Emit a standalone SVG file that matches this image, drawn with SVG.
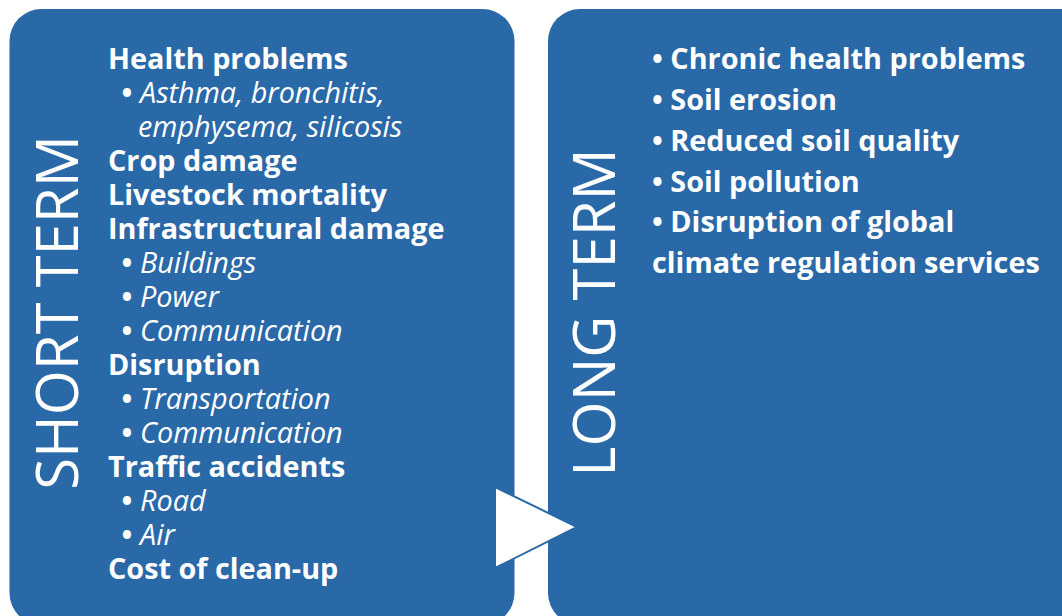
<svg xmlns="http://www.w3.org/2000/svg" width="1062" height="616" viewBox="0 0 1062 616">
<style>
.box{fill:#2A69A8;}
.t{font-family:"Open Sans","DejaVu Sans",sans-serif;fill:#fff;font-size:28.8px;}
.b{font-weight:bold;}
.i{font-style:italic;}
.big{font-family:"Open Sans","DejaVu Sans",sans-serif;fill:#fff;font-size:58px;text-anchor:middle;}
</style>
<rect width="1062" height="616" fill="#fff"/>
<g id="short-term">
<rect class="box" x="9.5" y="9" width="505" height="616" rx="32" ry="32"/>
<text class="big" transform="translate(78,312.5) rotate(-90)">SHORT TERM</text>
<text class="t b" x="108" y="69">Health problems</text>
<text class="t b" x="121.5" y="103">•</text><text class="t i" x="140" y="103">Asthma, bronchitis,</text>
<text class="t i" x="138" y="137">emphysema, silicosis</text>
<text class="t b" x="108" y="171">Crop damage</text>
<text class="t b" x="108" y="205">Livestock mortality</text>
<text class="t b" x="108" y="239">Infrastructural damage</text>
<text class="t b" x="121.5" y="273">•</text><text class="t i" x="140" y="273">Buildings</text>
<text class="t b" x="121.5" y="307">•</text><text class="t i" x="140" y="307">Power</text>
<text class="t b" x="121.5" y="341">•</text><text class="t i" x="140" y="341">Communication</text>
<text class="t b" x="108" y="375">Disruption</text>
<text class="t b" x="121.5" y="409">•</text><text class="t i" x="140" y="409">Transportation</text>
<text class="t b" x="121.5" y="443">•</text><text class="t i" x="140" y="443">Communication</text>
<text class="t b" x="108" y="477">Traffic accidents</text>
<text class="t b" x="121.5" y="511">•</text><text class="t i" x="140" y="511">Road</text>
<text class="t b" x="121.5" y="545">•</text><text class="t i" x="140" y="545">Air</text>
<text class="t b" x="108" y="579">Cost of clean-up</text>
</g>
<g id="long-term">
<rect class="box" x="548" y="9" width="560" height="616" rx="32" ry="32"/>
<text class="big" transform="translate(615,312.5) rotate(-90)">LONG TERM</text>
<text class="t b" x="652" y="69">• Chronic health problems</text>
<text class="t b" x="652" y="110">• Soil erosion</text>
<text class="t b" x="652" y="151">• Reduced soil quality</text>
<text class="t b" x="652" y="192">• Soil pollution</text>
<text class="t b" x="652" y="232">• Disruption of global</text>
<text class="t b" x="652" y="273">climate regulation services</text>
</g>
<g id="connectors">
<polygon points="495,487 577,527 495,568" fill="#fff" stroke="#2A69A8" stroke-width="2"/>
</g>
</svg>
